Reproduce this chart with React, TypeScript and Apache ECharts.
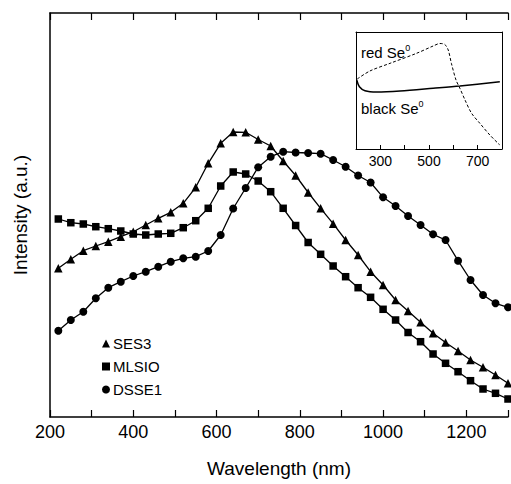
import React, { useEffect, useRef } from "react";
import * as echarts from "echarts";

const wavelengths = [
  220, 250, 280, 310, 340, 370, 400, 430, 460, 490, 520, 550, 580, 610, 640, 670, 700, 730, 760,
  790, 820, 850, 880, 910, 940, 970, 1000, 1030, 1060, 1090, 1120, 1150, 1180, 1210, 1240, 1270, 1300,
];
const ses3 = [
  148.7, 157.7, 166.3, 171, 175.3, 180.3, 185.3, 192, 198.7, 204.7, 213.7, 229.7, 253.7, 273.7, 285,
  284.7, 277.5, 271, 256, 241.5, 224.5, 208.7, 193.3, 177, 162, 145.3, 132, 117, 106, 94.8, 83.7,
  74.5, 66, 57, 49.7, 42, 33.7,
];
const mlsio = [
  198, 194.3, 193, 190.3, 188.3, 186, 183, 182, 183, 183.7, 189.3, 196.3, 208.7, 231, 245, 243, 236,
  225.3, 208.7, 191.5, 174.5, 162.7, 151, 140.3, 129.3, 119.7, 107.7, 97, 84.5, 75.3, 63, 53.7, 45.3,
  36.3, 28, 23.7, 18,
];
const dsse1 = [
  86.3, 97, 105.3, 118.7, 129.3, 135.3, 141, 145.3, 150.3, 155.3, 158.7, 160.3, 166, 182, 208.5, 229,
  249.8, 260.3, 265.3, 264.5, 264, 263.3, 257, 250.3, 241.5, 234.5, 219.7, 211, 201, 192, 182.7, 177,
  156.3, 137, 122, 113.7, 109.7,
];

// inset
const redSeX = [205, 257, 340, 449, 517, 545, 565, 579, 592, 611, 627, 648, 675, 709, 750, 791];
const redSeY = [70, 78, 85.7, 95.7, 103, 105.5, 104.5, 99, 85.7, 69, 60.7, 49, 35.7, 25.7, 14, 4];
const blackSeX = [203, 214, 237, 285, 381, 517, 627, 791];
const blackSeY = [69, 62.3, 58.3, 57, 58, 60.7, 63, 67.3];

const seriesNames = ["SES3", "MLSIO", "DSSE1"];
const FONT = "'Liberation Sans', Arial, Helvetica, sans-serif";

const zip = (xs: number[], ys: number[]) => xs.map((x, i) => [x, ys[i]]);

export default function App() {
  const ref = useRef<HTMLDivElement>(null);
  useEffect(() => {
    if (!ref.current) return;
    const chart = echarts.init(ref.current, undefined, { renderer: "svg" });
    const lineStyle = { color: "#000", width: 1.3 };
    const insetLine = { onZero: false, show: true, lineStyle: { color: "#000", width: 1 } };
    const option: any = {
      animation: false,
      backgroundColor: "#fff",
      textStyle: { fontFamily: FONT, color: "#000" },
      legend: {
        orient: "vertical",
        left: 97,
        top: 331,
        itemWidth: 8,
        itemHeight: 8,
        itemGap: 8,
        textStyle: { fontSize: 15, color: "#000", fontFamily: FONT, padding: [0, 0, 0, -2] },
        data: [
          { name: seriesNames[0], icon: "triangle" },
          { name: seriesNames[1], icon: "rect" },
          { name: seriesNames[2], icon: "circle" },
        ],
      },
      grid: [
        { left: 50, top: 13, width: 462, height: 404 },
        { left: 356, top: 32, width: 146, height: 117 },
      ],
      xAxis: [
        {
          gridIndex: 0,
          type: "value",
          min: 200,
          max: 1300,
          interval: 100,
          position: "bottom",
          axisLine: { onZero: false, lineStyle: { color: "#000", width: 1.5 } },
          axisTick: { inside: true, length: 7, lineStyle: { color: "#000", width: 1.2 } },
          axisLabel: {
            fontSize: 18,
            color: "#000",
            fontFamily: FONT,
            margin: 6,
            formatter: (v: number) => (v % 200 === 0 ? String(v) : ""),
          },
          splitLine: { show: false },
          name: "Wavelength (nm)",
          nameLocation: "middle",
          nameGap: 42,
          nameTextStyle: { fontSize: 19, color: "#000", fontFamily: FONT },
        },
        {
          gridIndex: 0,
          type: "value",
          min: 200,
          max: 1300,
          interval: 100,
          position: "top",
          axisLine: { onZero: false, lineStyle: { color: "#000", width: 1.5 } },
          axisTick: { inside: true, length: 7, lineStyle: { color: "#000", width: 1.2 } },
          axisLabel: { show: false },
          splitLine: { show: false },
        },
        {
          gridIndex: 1,
          type: "value",
          min: 200,
          max: 800,
          interval: 100,
          position: "bottom",
          axisLine: insetLine,
          axisTick: { inside: true, length: 4, lineStyle: { color: "#000", width: 1 } },
          axisLabel: {
            fontSize: 14,
            color: "#000",
            fontFamily: FONT,
            margin: 5,
            formatter: (v: number) => (v === 300 || v === 500 || v === 700 ? String(v) : ""),
          },
          splitLine: { show: false },
        },
        {
          gridIndex: 1,
          type: "value",
          min: 200,
          max: 800,
          position: "top",
          axisLine: insetLine,
          axisTick: { show: false },
          axisLabel: { show: false },
          splitLine: { show: false },
        },
      ],
      yAxis: [
        {
          gridIndex: 0,
          type: "value",
          min: 0,
          max: 404,
          axisLine: { show: true, onZero: false, lineStyle: { color: "#000", width: 1.5 } },
          axisTick: { show: false },
          axisLabel: { show: false },
          splitLine: { show: false },
          name: "Intensity (a.u.)",
          nameLocation: "middle",
          nameGap: 20,
          nameTextStyle: { fontSize: 19, color: "#000", fontFamily: FONT },
        },
        {
          gridIndex: 1,
          type: "value",
          min: 0,
          max: 117,
          position: "left",
          axisLine: insetLine,
          axisTick: { show: false },
          axisLabel: { show: false },
          splitLine: { show: false },
        },
        {
          gridIndex: 1,
          type: "value",
          min: 0,
          max: 117,
          position: "right",
          axisLine: insetLine,
          axisTick: { show: false },
          axisLabel: { show: false },
          splitLine: { show: false },
        },
      ],
      series: [
        {
          name: seriesNames[0],
          type: "line",
          xAxisIndex: 0,
          yAxisIndex: 0,
          data: zip(wavelengths, ses3),
          symbol: "triangle",
          symbolSize: 8.5,
          itemStyle: { color: "#000" },
          lineStyle,
        },
        {
          name: seriesNames[1],
          type: "line",
          xAxisIndex: 0,
          yAxisIndex: 0,
          data: zip(wavelengths, mlsio),
          symbol: "rect",
          symbolSize: 7.5,
          itemStyle: { color: "#000" },
          lineStyle,
        },
        {
          name: seriesNames[2],
          type: "line",
          xAxisIndex: 0,
          yAxisIndex: 0,
          data: zip(wavelengths, dsse1),
          symbol: "circle",
          symbolSize: 8,
          itemStyle: { color: "#000" },
          lineStyle,
        },
        {
          name: "red Se0",
          type: "line",
          xAxisIndex: 2,
          yAxisIndex: 1,
          data: zip(redSeX, redSeY),
          smooth: 0.3,
          showSymbol: false,
          symbol: "none",
          z: 6,
          lineStyle: { color: "#000", width: 1, type: [3, 2] },
        },
        {
          name: "black Se0",
          type: "line",
          xAxisIndex: 2,
          yAxisIndex: 1,
          data: zip(blackSeX, blackSeY),
          smooth: 0.3,
          showSymbol: false,
          symbol: "none",
          z: 6,
          lineStyle: { color: "#000", width: 1.5 },
        },
      ],
      graphic: [
        {
          type: "text",
          left: 361,
          top: 43,
          z: 10,
          style: {
            text: "{a|red Se}{s|0}",
            rich: {
              a: { fontSize: 15, fontFamily: FONT, fill: "#000", lineHeight: 17, verticalAlign: "bottom" },
              s: { fontSize: 9, fontFamily: FONT, fill: "#000", lineHeight: 17, verticalAlign: "top" },
            },
          },
        },
        {
          type: "text",
          left: 361,
          top: 99,
          z: 10,
          style: {
            text: "{a|black Se}{s|0}",
            rich: {
              a: { fontSize: 15, fontFamily: FONT, fill: "#000", lineHeight: 17, verticalAlign: "bottom" },
              s: { fontSize: 9, fontFamily: FONT, fill: "#000", lineHeight: 17, verticalAlign: "top" },
            },
          },
        },
      ],
    };
    chart.setOption(option);
    return () => chart.dispose();
  }, []);
  return (
    <div
      ref={ref}
      style={{ position: "absolute", left: 0, top: 0, width: 511, height: 484, background: "#fff" }}
    />
  );
}
